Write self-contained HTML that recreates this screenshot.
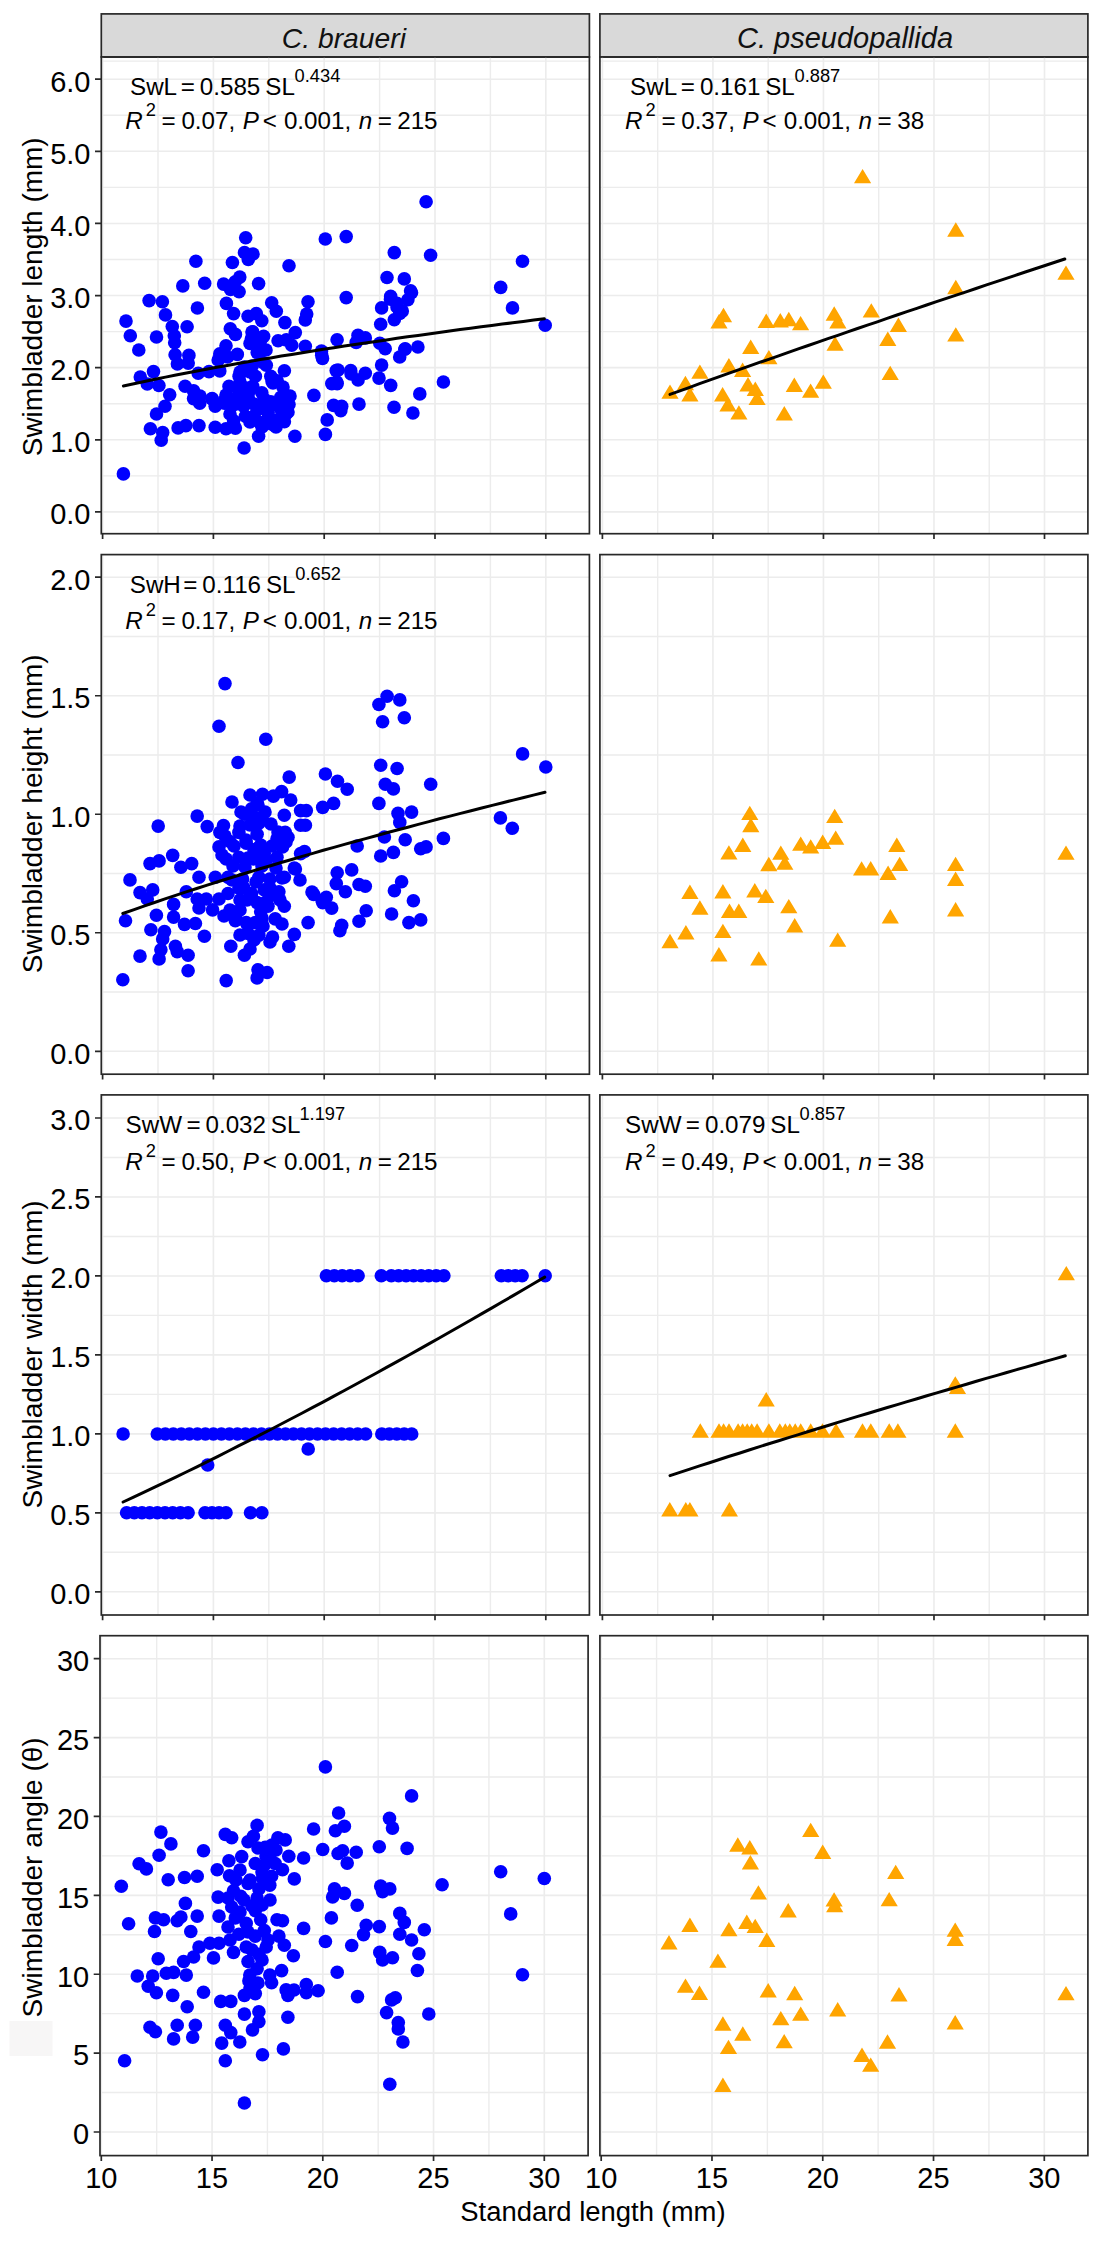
<!DOCTYPE html><html><head><meta charset="utf-8"><style>html,body{margin:0;padding:0;background:#fff;}svg{display:block;}text{font-family:"Liberation Sans",sans-serif;}</style></head><body>
<svg width="1102" height="2244" viewBox="0 0 1102 2244">
<rect x="0" y="0" width="1102" height="2244" fill="#fff"/>
<rect x="101.30" y="13.9" width="488.10" height="43.1" fill="#D9D9D9" stroke="#282828" stroke-width="1.7"/>
<rect x="599.90" y="13.9" width="488.00" height="43.1" fill="#D9D9D9" stroke="#282828" stroke-width="1.7"/>
<text x="343.9" y="47.6" font-size="28.3" font-style="italic" text-anchor="middle" fill="#111">C. braueri</text>
<text x="845.0" y="47.6" font-size="29" font-style="italic" text-anchor="middle" fill="#111">C. pseudopallida</text>
<path d="M101.30 475.84H589.40M101.30 403.72H589.40M101.30 331.61H589.40M101.30 259.49H589.40M101.30 187.38H589.40M101.30 115.26H589.40M101.30 61.17H589.40M158.00 57.00V533.70M268.80 57.00V533.70M379.60 57.00V533.70M490.40 57.00V533.70" stroke="#ECECEC" stroke-width="1.4" fill="none"/>
<path d="M101.30 511.90H589.40M101.30 439.78H589.40M101.30 367.67H589.40M101.30 295.55H589.40M101.30 223.43H589.40M101.30 151.32H589.40M101.30 79.20H589.40M102.60 57.00V533.70M213.40 57.00V533.70M324.20 57.00V533.70M435.00 57.00V533.70M545.80 57.00V533.70" stroke="#ECECEC" stroke-width="1.6" fill="none"/>
<text x="130.00" y="94.70" font-size="24.2" fill="#000">SwL</text><text x="180.70" y="94.70" font-size="24.2" fill="#000">=</text><text x="199.80" y="94.70" font-size="24.2" fill="#000">0.585</text><text x="265.30" y="94.70" font-size="24.2" fill="#000">SL</text><text x="294.60" y="81.60" font-size="18.3" fill="#000">0.434</text>
<text x="125.30" y="129.20" font-size="24.2" font-style="italic" fill="#000">R</text><text x="145.70" y="115.90" font-size="18.3" fill="#000">2</text><text x="161.60" y="129.20" font-size="24.2" fill="#000">=</text><text x="181.40" y="129.20" font-size="24.2" fill="#000">0.07,</text><text x="242.80" y="129.20" font-size="24.2" font-style="italic" fill="#000">P</text><text x="262.80" y="129.20" font-size="24.2" fill="#000"><</text><text x="283.90" y="129.20" font-size="24.2" fill="#000">0.001,</text><text x="358.70" y="129.20" font-size="24.2" font-style="italic" fill="#000">n</text><text x="377.70" y="129.20" font-size="24.2" fill="#000">=</text><text x="397.20" y="129.20" font-size="24.2" fill="#000">215</text>
<g fill="#0000FF"><circle cx="245.7" cy="237.8" r="6.8"/><circle cx="244.5" cy="252.5" r="6.8"/><circle cx="253.0" cy="254.0" r="6.8"/><circle cx="248.3" cy="259.4" r="6.8"/><circle cx="195.9" cy="261.2" r="6.8"/><circle cx="232.4" cy="262.5" r="6.8"/><circle cx="239.8" cy="277.1" r="6.8"/><circle cx="182.8" cy="285.9" r="6.8"/><circle cx="204.7" cy="283.3" r="6.8"/><circle cx="223.6" cy="284.1" r="6.8"/><circle cx="230.6" cy="289.5" r="6.8"/><circle cx="235.2" cy="281.8" r="6.8"/><circle cx="149.1" cy="300.6" r="6.8"/><circle cx="162.4" cy="301.8" r="6.8"/><circle cx="197.4" cy="308.0" r="6.8"/><circle cx="226.4" cy="303.4" r="6.8"/><circle cx="165.5" cy="314.9" r="6.8"/><circle cx="126.0" cy="321.1" r="6.8"/><circle cx="172.3" cy="326.5" r="6.8"/><circle cx="187.1" cy="326.8" r="6.8"/><circle cx="130.3" cy="335.8" r="6.8"/><circle cx="156.5" cy="337.0" r="6.8"/><circle cx="174.3" cy="335.8" r="6.8"/><circle cx="174.7" cy="342.7" r="6.8"/><circle cx="230.3" cy="328.8" r="6.8"/><circle cx="251.4" cy="338.8" r="6.8"/><circle cx="138.8" cy="350.0" r="6.8"/><circle cx="226.0" cy="345.8" r="6.8"/><circle cx="175.1" cy="354.7" r="6.8"/><circle cx="188.9" cy="355.4" r="6.8"/><circle cx="177.4" cy="363.9" r="6.8"/><circle cx="188.2" cy="363.1" r="6.8"/><circle cx="219.8" cy="353.9" r="6.8"/><circle cx="153.5" cy="371.6" r="6.8"/><circle cx="140.3" cy="377.0" r="6.8"/><circle cx="147.3" cy="384.0" r="6.8"/><circle cx="158.9" cy="385.5" r="6.8"/><circle cx="169.7" cy="394.8" r="6.8"/><circle cx="165.0" cy="406.3" r="6.8"/><circle cx="156.5" cy="414.0" r="6.8"/><circle cx="185.1" cy="386.3" r="6.8"/><circle cx="193.6" cy="390.9" r="6.8"/><circle cx="198.2" cy="373.2" r="6.8"/><circle cx="209.0" cy="371.6" r="6.8"/><circle cx="219.8" cy="370.9" r="6.8"/><circle cx="193.6" cy="398.6" r="6.8"/><circle cx="199.7" cy="403.3" r="6.8"/><circle cx="212.1" cy="398.6" r="6.8"/><circle cx="215.2" cy="406.3" r="6.8"/><circle cx="224.4" cy="403.3" r="6.8"/><circle cx="229.0" cy="386.3" r="6.8"/><circle cx="218.2" cy="360.0" r="6.8"/><circle cx="227.5" cy="357.0" r="6.8"/><circle cx="150.4" cy="428.7" r="6.8"/><circle cx="162.7" cy="432.6" r="6.8"/><circle cx="161.2" cy="440.3" r="6.8"/><circle cx="178.1" cy="427.9" r="6.8"/><circle cx="185.9" cy="425.6" r="6.8"/><circle cx="199.0" cy="425.6" r="6.8"/><circle cx="215.2" cy="427.2" r="6.8"/><circle cx="226.0" cy="428.7" r="6.8"/><circle cx="123.4" cy="473.9" r="6.8"/><circle cx="258.6" cy="283.6" r="6.8"/><circle cx="239.1" cy="291.8" r="6.8"/><circle cx="271.7" cy="302.7" r="6.8"/><circle cx="276.3" cy="311.3" r="6.8"/><circle cx="308.0" cy="301.8" r="6.8"/><circle cx="306.7" cy="314.0" r="6.8"/><circle cx="305.3" cy="319.9" r="6.8"/><circle cx="284.9" cy="322.6" r="6.8"/><circle cx="295.3" cy="332.6" r="6.8"/><circle cx="278.1" cy="340.8" r="6.8"/><circle cx="286.3" cy="339.9" r="6.8"/><circle cx="291.7" cy="345.3" r="6.8"/><circle cx="305.3" cy="346.2" r="6.8"/><circle cx="321.7" cy="355.3" r="6.8"/><circle cx="248.1" cy="316.3" r="6.8"/><circle cx="256.3" cy="313.6" r="6.8"/><circle cx="261.8" cy="320.8" r="6.8"/><circle cx="233.6" cy="313.6" r="6.8"/><circle cx="235.4" cy="334.4" r="6.8"/><circle cx="252.7" cy="331.7" r="6.8"/><circle cx="263.6" cy="336.3" r="6.8"/><circle cx="250.0" cy="343.5" r="6.8"/><circle cx="260.0" cy="345.3" r="6.8"/><circle cx="237.3" cy="354.4" r="6.8"/><circle cx="257.2" cy="352.6" r="6.8"/><circle cx="244.5" cy="367.1" r="6.8"/><circle cx="266.3" cy="365.3" r="6.8"/><circle cx="284.4" cy="370.7" r="6.8"/><circle cx="239.1" cy="376.2" r="6.8"/><circle cx="255.4" cy="376.2" r="6.8"/><circle cx="270.8" cy="376.2" r="6.8"/><circle cx="313.9" cy="395.4" r="6.8"/><circle cx="294.9" cy="436.2" r="6.8"/><circle cx="258.6" cy="436.2" r="6.8"/><circle cx="244.1" cy="448.0" r="6.8"/><circle cx="245.4" cy="416.3" r="6.8"/><circle cx="233.6" cy="420.8" r="6.8"/><circle cx="235.4" cy="428.1" r="6.8"/><circle cx="260.0" cy="422.6" r="6.8"/><circle cx="272.6" cy="424.4" r="6.8"/><circle cx="284.4" cy="421.7" r="6.8"/><circle cx="289.0" cy="404.5" r="6.8"/><circle cx="280.8" cy="397.2" r="6.8"/><circle cx="280.8" cy="409.0" r="6.8"/><circle cx="268.1" cy="412.6" r="6.8"/><circle cx="257.2" cy="409.9" r="6.8"/><circle cx="243.6" cy="406.3" r="6.8"/><circle cx="234.5" cy="404.5" r="6.8"/><circle cx="237.3" cy="388.1" r="6.8"/><circle cx="252.7" cy="386.3" r="6.8"/><circle cx="261.8" cy="392.7" r="6.8"/><circle cx="277.2" cy="380.9" r="6.8"/><circle cx="248.1" cy="397.2" r="6.8"/><circle cx="270.8" cy="401.8" r="6.8"/><circle cx="426.1" cy="201.8" r="6.8"/><circle cx="325.3" cy="239.0" r="6.8"/><circle cx="346.2" cy="236.6" r="6.8"/><circle cx="394.3" cy="252.6" r="6.8"/><circle cx="430.6" cy="255.3" r="6.8"/><circle cx="289.0" cy="265.7" r="6.8"/><circle cx="387.0" cy="277.5" r="6.8"/><circle cx="404.3" cy="278.9" r="6.8"/><circle cx="346.2" cy="297.6" r="6.8"/><circle cx="410.6" cy="290.7" r="6.8"/><circle cx="407.9" cy="299.8" r="6.8"/><circle cx="390.7" cy="296.2" r="6.8"/><circle cx="381.6" cy="307.9" r="6.8"/><circle cx="397.0" cy="307.0" r="6.8"/><circle cx="399.7" cy="313.4" r="6.8"/><circle cx="394.3" cy="319.7" r="6.8"/><circle cx="380.7" cy="324.3" r="6.8"/><circle cx="337.1" cy="339.7" r="6.8"/><circle cx="358.0" cy="335.2" r="6.8"/><circle cx="365.3" cy="337.9" r="6.8"/><circle cx="356.2" cy="342.4" r="6.8"/><circle cx="379.8" cy="343.3" r="6.8"/><circle cx="385.2" cy="348.8" r="6.8"/><circle cx="405.2" cy="348.8" r="6.8"/><circle cx="399.7" cy="357.0" r="6.8"/><circle cx="417.9" cy="347.0" r="6.8"/><circle cx="381.6" cy="365.1" r="6.8"/><circle cx="336.2" cy="370.6" r="6.8"/><circle cx="350.7" cy="370.6" r="6.8"/><circle cx="365.3" cy="373.3" r="6.8"/><circle cx="443.4" cy="382.0" r="6.8"/><circle cx="379.0" cy="378.1" r="6.8"/><circle cx="390.7" cy="385.4" r="6.8"/><circle cx="419.8" cy="393.9" r="6.8"/><circle cx="331.8" cy="383.6" r="6.8"/><circle cx="337.2" cy="383.6" r="6.8"/><circle cx="358.1" cy="380.0" r="6.8"/><circle cx="333.6" cy="405.4" r="6.8"/><circle cx="340.8" cy="410.8" r="6.8"/><circle cx="341.7" cy="406.3" r="6.8"/><circle cx="359.0" cy="404.1" r="6.8"/><circle cx="394.0" cy="407.2" r="6.8"/><circle cx="412.9" cy="413.0" r="6.8"/><circle cx="327.2" cy="419.9" r="6.8"/><circle cx="325.4" cy="434.4" r="6.8"/><circle cx="522.5" cy="261.3" r="6.8"/><circle cx="500.7" cy="287.4" r="6.8"/><circle cx="512.5" cy="307.9" r="6.8"/><circle cx="545.2" cy="325.2" r="6.8"/><circle cx="262.0" cy="362.0" r="6.8"/><circle cx="250.0" cy="372.0" r="6.8"/><circle cx="240.0" cy="382.0" r="6.8"/><circle cx="273.0" cy="383.0" r="6.8"/><circle cx="283.0" cy="387.0" r="6.8"/><circle cx="290.0" cy="396.0" r="6.8"/><circle cx="264.0" cy="399.0" r="6.8"/><circle cx="254.0" cy="404.0" r="6.8"/><circle cx="277.0" cy="405.0" r="6.8"/><circle cx="286.0" cy="414.0" r="6.8"/><circle cx="268.0" cy="418.0" r="6.8"/><circle cx="250.0" cy="422.0" r="6.8"/><circle cx="276.0" cy="427.0" r="6.8"/><circle cx="262.0" cy="427.0" r="6.8"/><circle cx="240.0" cy="396.0" r="6.8"/><circle cx="230.0" cy="414.0" r="6.8"/><circle cx="246.0" cy="388.0" r="6.8"/><circle cx="226.0" cy="395.0" r="6.8"/><circle cx="321.5" cy="351.0" r="6.8"/><circle cx="322.5" cy="358.5" r="6.8"/><circle cx="390.5" cy="299.3" r="6.8"/><circle cx="397.0" cy="303.3" r="6.8"/><circle cx="402.3" cy="311.1" r="6.8"/><circle cx="411.5" cy="292.8" r="6.8"/><circle cx="338.0" cy="370.1" r="6.8"/><circle cx="336.7" cy="382.0" r="6.8"/><circle cx="351.1" cy="374.0" r="6.8"/><circle cx="404.9" cy="349.2" r="6.8"/><circle cx="200.0" cy="396.0" r="6.8"/><circle cx="212.0" cy="399.0" r="6.8"/><circle cx="224.0" cy="401.0" r="6.8"/><circle cx="236.0" cy="398.0" r="6.8"/><circle cx="250.0" cy="390.0" r="6.8"/><circle cx="272.0" cy="381.0" r="6.8"/><circle cx="240.0" cy="372.0" r="6.8"/><circle cx="252.0" cy="366.0" r="6.8"/><circle cx="266.0" cy="350.0" r="6.8"/><circle cx="284.0" cy="402.0" r="6.8"/><circle cx="288.0" cy="412.0" r="6.8"/><circle cx="266.0" cy="408.0" r="6.8"/><circle cx="254.0" cy="416.0" r="6.8"/><circle cx="276.0" cy="420.0" r="6.8"/><circle cx="262.0" cy="338.0" r="6.8"/><circle cx="252.0" cy="332.0" r="6.8"/></g>
<path d="M123.4 386.0L133.9 383.7L144.4 381.5L155.0 379.3L165.5 377.1L176.0 375.0L186.5 373.0L197.1 371.0L207.6 369.0L218.1 367.1L228.6 365.2L239.1 363.3L249.7 361.4L260.2 359.6L270.7 357.9L281.2 356.1L291.8 354.4L302.3 352.7L312.8 351.0L323.3 349.3L333.8 347.7L344.4 346.1L354.9 344.5L365.4 342.9L375.9 341.4L386.5 339.9L397.0 338.3L407.5 336.8L418.0 335.4L428.6 333.9L439.1 332.5L449.6 331.0L460.1 329.6L470.6 328.2L481.2 326.8L491.7 325.5L502.2 324.1L512.7 322.8L523.3 321.4L533.8 320.1L544.3 318.8" stroke="#000" stroke-width="3.0" fill="none" stroke-linejoin="round" stroke-linecap="round"/>
<rect x="101.30" y="57.00" width="488.10" height="476.70" fill="none" stroke="#282828" stroke-width="1.7"/>
<path d="M102.60 533.70V539.00M213.40 533.70V539.00M324.20 533.70V539.00M435.00 533.70V539.00M545.80 533.70V539.00" stroke="#282828" stroke-width="1.7" fill="none"/>
<path d="M599.90 475.84H1087.90M599.90 403.72H1087.90M599.90 331.61H1087.90M599.90 259.49H1087.90M599.90 187.38H1087.90M599.90 115.26H1087.90M599.90 61.17H1087.90M657.66 57.00V533.70M768.19 57.00V533.70M878.71 57.00V533.70M989.24 57.00V533.70" stroke="#ECECEC" stroke-width="1.4" fill="none"/>
<path d="M599.90 511.90H1087.90M599.90 439.78H1087.90M599.90 367.67H1087.90M599.90 295.55H1087.90M599.90 223.43H1087.90M599.90 151.32H1087.90M599.90 79.20H1087.90M602.40 57.00V533.70M712.92 57.00V533.70M823.45 57.00V533.70M933.98 57.00V533.70M1044.50 57.00V533.70" stroke="#ECECEC" stroke-width="1.6" fill="none"/>
<text x="630.10" y="94.70" font-size="24.2" fill="#000">SwL</text><text x="680.80" y="94.70" font-size="24.2" fill="#000">=</text><text x="699.90" y="94.70" font-size="24.2" fill="#000">0.161</text><text x="765.20" y="94.70" font-size="24.2" fill="#000">SL</text><text x="794.50" y="81.60" font-size="18.3" fill="#000">0.887</text>
<text x="625.10" y="129.20" font-size="24.2" font-style="italic" fill="#000">R</text><text x="645.50" y="115.90" font-size="18.3" fill="#000">2</text><text x="661.40" y="129.20" font-size="24.2" fill="#000">=</text><text x="681.20" y="129.20" font-size="24.2" fill="#000">0.37,</text><text x="742.60" y="129.20" font-size="24.2" font-style="italic" fill="#000">P</text><text x="762.60" y="129.20" font-size="24.2" fill="#000"><</text><text x="783.70" y="129.20" font-size="24.2" fill="#000">0.001,</text><text x="858.50" y="129.20" font-size="24.2" font-style="italic" fill="#000">n</text><text x="877.50" y="129.20" font-size="24.2" fill="#000">=</text><text x="897.30" y="129.20" font-size="24.2" fill="#000">38</text>
<path d="M723.5 307.8L732.1 322.2L714.9 322.2ZM719.0 314.1L727.6 328.5L710.4 328.5ZM766.2 313.6L774.8 328.0L757.6 328.0ZM780.3 313.0L788.9 327.4L771.7 327.4ZM788.8 311.8L797.4 326.2L780.2 326.2ZM800.6 315.9L809.2 330.3L792.0 330.3ZM834.2 306.3L842.8 320.7L825.6 320.7ZM837.9 314.1L846.5 328.5L829.3 328.5ZM835.1 336.3L843.7 350.7L826.5 350.7ZM750.7 339.5L759.3 353.9L742.1 353.9ZM768.9 349.9L777.5 364.3L760.3 364.3ZM728.9 358.0L737.5 372.4L720.3 372.4ZM742.6 362.6L751.2 377.0L734.0 377.0ZM699.9 364.4L708.5 378.8L691.3 378.8ZM685.4 375.8L694.0 390.2L676.8 390.2ZM670.0 384.4L678.6 398.8L661.4 398.8ZM689.9 387.1L698.5 401.5L681.3 401.5ZM748.0 377.1L756.6 391.5L739.4 391.5ZM755.3 381.6L763.9 396.0L746.7 396.0ZM757.1 390.7L765.7 405.1L748.5 405.1ZM722.6 387.1L731.2 401.5L714.0 401.5ZM728.0 397.1L736.6 411.5L719.4 411.5ZM738.9 405.2L747.5 419.6L730.3 419.6ZM794.3 377.6L802.9 392.0L785.7 392.0ZM810.6 383.4L819.2 397.8L802.0 397.8ZM823.3 374.4L831.9 388.8L814.7 388.8ZM784.3 406.1L792.9 420.5L775.7 420.5ZM862.6 168.9L871.2 183.3L854.0 183.3ZM955.8 222.3L964.4 236.7L947.2 236.7ZM955.8 279.8L964.4 294.2L947.2 294.2ZM1066.0 265.4L1074.6 279.8L1057.4 279.8ZM871.3 303.2L879.9 317.6L862.7 317.6ZM898.4 317.5L907.0 331.9L889.8 331.9ZM887.8 331.5L896.4 345.9L879.2 345.9ZM955.8 327.2L964.4 341.6L947.2 341.6ZM890.2 365.7L898.8 380.1L881.6 380.1Z" fill="#FFA500"/>
<path d="M670.0 394.4L679.9 390.8L689.7 387.3L699.6 383.7L709.5 380.2L719.4 376.7L729.2 373.2L739.1 369.7L749.0 366.2L758.8 362.7L768.7 359.3L778.6 355.8L788.4 352.4L798.3 348.9L808.2 345.5L818.0 342.1L827.9 338.7L837.8 335.3L847.7 331.9L857.5 328.5L867.4 325.1L877.3 321.8L887.1 318.4L897.0 315.0L906.9 311.7L916.8 308.4L926.6 305.0L936.5 301.7L946.4 298.4L956.2 295.1L966.1 291.8L976.0 288.5L985.8 285.2L995.7 281.9L1005.6 278.6L1015.4 275.3L1025.3 272.0L1035.2 268.8L1045.1 265.5L1054.9 262.3L1064.8 259.0" stroke="#000" stroke-width="3.0" fill="none" stroke-linejoin="round" stroke-linecap="round"/>
<rect x="599.90" y="57.00" width="488.00" height="476.70" fill="none" stroke="#282828" stroke-width="1.7"/>
<path d="M602.40 533.70V539.00M712.92 533.70V539.00M823.45 533.70V539.00M933.98 533.70V539.00M1044.50 533.70V539.00" stroke="#282828" stroke-width="1.7" fill="none"/>
<path d="M95.00 511.90H101.30M95.00 439.78H101.30M95.00 367.67H101.30M95.00 295.55H101.30M95.00 223.43H101.30M95.00 151.32H101.30M95.00 79.20H101.30" stroke="#282828" stroke-width="1.7" fill="none"/>
<text x="90.5" y="524.2" font-size="29" text-anchor="end" fill="#000">0.0</text>
<text x="90.5" y="452.1" font-size="29" text-anchor="end" fill="#000">1.0</text>
<text x="90.5" y="380.0" font-size="29" text-anchor="end" fill="#000">2.0</text>
<text x="90.5" y="307.8" font-size="29" text-anchor="end" fill="#000">3.0</text>
<text x="90.5" y="235.7" font-size="29" text-anchor="end" fill="#000">4.0</text>
<text x="90.5" y="163.6" font-size="29" text-anchor="end" fill="#000">5.0</text>
<text x="90.5" y="91.5" font-size="29" text-anchor="end" fill="#000">6.0</text>
<text transform="translate(42.4 296.8) rotate(-90)" font-size="28" text-anchor="middle" fill="#000">Swimbladder length (mm)</text>
<path d="M101.30 992.04H589.40M101.30 873.51H589.40M101.30 754.99H589.40M101.30 636.46H589.40M158.00 554.60V1074.20M268.80 554.60V1074.20M379.60 554.60V1074.20M490.40 554.60V1074.20" stroke="#ECECEC" stroke-width="1.4" fill="none"/>
<path d="M101.30 1051.30H589.40M101.30 932.77H589.40M101.30 814.25H589.40M101.30 695.73H589.40M101.30 577.20H589.40M102.60 554.60V1074.20M213.40 554.60V1074.20M324.20 554.60V1074.20M435.00 554.60V1074.20M545.80 554.60V1074.20" stroke="#ECECEC" stroke-width="1.6" fill="none"/>
<text x="129.75" y="593.00" font-size="24.2" fill="#000">SwH</text><text x="183.25" y="593.00" font-size="24.2" fill="#000">=</text><text x="202.35" y="593.00" font-size="24.2" fill="#000">0.116</text><text x="265.95" y="593.00" font-size="24.2" fill="#000">SL</text><text x="295.25" y="579.90" font-size="18.3" fill="#000">0.652</text>
<text x="125.30" y="629.30" font-size="24.2" font-style="italic" fill="#000">R</text><text x="145.70" y="616.00" font-size="18.3" fill="#000">2</text><text x="161.60" y="629.30" font-size="24.2" fill="#000">=</text><text x="181.40" y="629.30" font-size="24.2" fill="#000">0.17,</text><text x="242.80" y="629.30" font-size="24.2" font-style="italic" fill="#000">P</text><text x="262.80" y="629.30" font-size="24.2" fill="#000"><</text><text x="283.90" y="629.30" font-size="24.2" fill="#000">0.001,</text><text x="358.70" y="629.30" font-size="24.2" font-style="italic" fill="#000">n</text><text x="377.70" y="629.30" font-size="24.2" fill="#000">=</text><text x="397.20" y="629.30" font-size="24.2" fill="#000">215</text>
<g fill="#0000FF"><circle cx="225.0" cy="683.6" r="6.8"/><circle cx="219.0" cy="726.2" r="6.8"/><circle cx="265.8" cy="739.3" r="6.8"/><circle cx="238.0" cy="762.5" r="6.8"/><circle cx="289.2" cy="777.1" r="6.8"/><circle cx="158.2" cy="826.1" r="6.8"/><circle cx="197.2" cy="816.1" r="6.8"/><circle cx="207.2" cy="826.6" r="6.8"/><circle cx="223.5" cy="825.5" r="6.8"/><circle cx="219.9" cy="832.4" r="6.8"/><circle cx="262.5" cy="794.3" r="6.8"/><circle cx="273.4" cy="796.1" r="6.8"/><circle cx="281.6" cy="791.6" r="6.8"/><circle cx="290.7" cy="800.1" r="6.8"/><circle cx="257.1" cy="803.4" r="6.8"/><circle cx="251.6" cy="808.8" r="6.8"/><circle cx="244.4" cy="814.3" r="6.8"/><circle cx="255.3" cy="817.9" r="6.8"/><circle cx="284.3" cy="815.2" r="6.8"/><circle cx="258.9" cy="823.3" r="6.8"/><circle cx="238.9" cy="832.4" r="6.8"/><circle cx="257.1" cy="834.2" r="6.8"/><circle cx="285.2" cy="832.4" r="6.8"/><circle cx="277.0" cy="838.8" r="6.8"/><circle cx="300.6" cy="825.2" r="6.8"/><circle cx="300.6" cy="810.6" r="6.8"/><circle cx="229.9" cy="841.5" r="6.8"/><circle cx="219.0" cy="846.9" r="6.8"/><circle cx="246.2" cy="843.3" r="6.8"/><circle cx="260.7" cy="845.1" r="6.8"/><circle cx="282.5" cy="846.9" r="6.8"/><circle cx="150.0" cy="863.6" r="6.8"/><circle cx="159.1" cy="860.9" r="6.8"/><circle cx="172.7" cy="855.4" r="6.8"/><circle cx="180.9" cy="867.2" r="6.8"/><circle cx="191.7" cy="863.6" r="6.8"/><circle cx="130.0" cy="879.9" r="6.8"/><circle cx="140.0" cy="892.6" r="6.8"/><circle cx="152.7" cy="889.9" r="6.8"/><circle cx="147.3" cy="899.0" r="6.8"/><circle cx="125.5" cy="920.7" r="6.8"/><circle cx="156.4" cy="915.3" r="6.8"/><circle cx="173.6" cy="904.4" r="6.8"/><circle cx="173.6" cy="917.1" r="6.8"/><circle cx="186.3" cy="891.7" r="6.8"/><circle cx="199.0" cy="877.2" r="6.8"/><circle cx="197.2" cy="899.0" r="6.8"/><circle cx="199.0" cy="908.0" r="6.8"/><circle cx="206.3" cy="899.0" r="6.8"/><circle cx="212.6" cy="909.9" r="6.8"/><circle cx="215.3" cy="877.2" r="6.8"/><circle cx="184.5" cy="924.4" r="6.8"/><circle cx="195.4" cy="923.5" r="6.8"/><circle cx="150.9" cy="929.8" r="6.8"/><circle cx="164.5" cy="931.6" r="6.8"/><circle cx="162.7" cy="938.9" r="6.8"/><circle cx="204.4" cy="936.2" r="6.8"/><circle cx="175.4" cy="946.2" r="6.8"/><circle cx="177.2" cy="951.6" r="6.8"/><circle cx="160.9" cy="949.8" r="6.8"/><circle cx="159.1" cy="958.9" r="6.8"/><circle cx="188.1" cy="955.2" r="6.8"/><circle cx="140.0" cy="956.1" r="6.8"/><circle cx="188.1" cy="970.7" r="6.8"/><circle cx="122.8" cy="979.7" r="6.8"/><circle cx="226.2" cy="980.6" r="6.8"/><circle cx="258.0" cy="969.7" r="6.8"/><circle cx="267.1" cy="972.5" r="6.8"/><circle cx="257.1" cy="977.9" r="6.8"/><circle cx="230.8" cy="946.2" r="6.8"/><circle cx="244.4" cy="955.2" r="6.8"/><circle cx="235.3" cy="920.7" r="6.8"/><circle cx="246.2" cy="922.6" r="6.8"/><circle cx="248.0" cy="933.4" r="6.8"/><circle cx="258.9" cy="935.3" r="6.8"/><circle cx="255.3" cy="922.6" r="6.8"/><circle cx="260.7" cy="911.7" r="6.8"/><circle cx="275.2" cy="918.9" r="6.8"/><circle cx="272.5" cy="937.1" r="6.8"/><circle cx="288.8" cy="946.2" r="6.8"/><circle cx="294.3" cy="934.4" r="6.8"/><circle cx="284.3" cy="906.2" r="6.8"/><circle cx="268.0" cy="906.2" r="6.8"/><circle cx="257.1" cy="902.6" r="6.8"/><circle cx="219.0" cy="899.0" r="6.8"/><circle cx="228.0" cy="893.5" r="6.8"/><circle cx="238.9" cy="888.1" r="6.8"/><circle cx="251.6" cy="893.5" r="6.8"/><circle cx="264.3" cy="889.9" r="6.8"/><circle cx="278.9" cy="891.7" r="6.8"/><circle cx="284.3" cy="877.2" r="6.8"/><circle cx="269.8" cy="879.0" r="6.8"/><circle cx="258.9" cy="877.2" r="6.8"/><circle cx="242.6" cy="879.0" r="6.8"/><circle cx="228.0" cy="877.2" r="6.8"/><circle cx="294.3" cy="868.1" r="6.8"/><circle cx="226.2" cy="859.0" r="6.8"/><circle cx="238.9" cy="857.2" r="6.8"/><circle cx="253.4" cy="859.0" r="6.8"/><circle cx="264.3" cy="853.6" r="6.8"/><circle cx="277.0" cy="857.2" r="6.8"/><circle cx="288.0" cy="837.3" r="6.8"/><circle cx="300.6" cy="853.6" r="6.8"/><circle cx="387.1" cy="696.3" r="6.8"/><circle cx="378.9" cy="704.5" r="6.8"/><circle cx="399.8" cy="699.9" r="6.8"/><circle cx="382.6" cy="721.7" r="6.8"/><circle cx="404.3" cy="717.7" r="6.8"/><circle cx="380.7" cy="765.3" r="6.8"/><circle cx="397.1" cy="768.5" r="6.8"/><circle cx="385.3" cy="784.3" r="6.8"/><circle cx="393.4" cy="788.9" r="6.8"/><circle cx="430.7" cy="784.3" r="6.8"/><circle cx="325.4" cy="774.0" r="6.8"/><circle cx="337.5" cy="781.2" r="6.8"/><circle cx="347.2" cy="789.2" r="6.8"/><circle cx="306.3" cy="810.6" r="6.8"/><circle cx="322.7" cy="807.4" r="6.8"/><circle cx="333.6" cy="803.4" r="6.8"/><circle cx="305.4" cy="825.2" r="6.8"/><circle cx="378.9" cy="803.4" r="6.8"/><circle cx="398.0" cy="813.4" r="6.8"/><circle cx="411.6" cy="812.1" r="6.8"/><circle cx="399.8" cy="822.4" r="6.8"/><circle cx="384.4" cy="837.0" r="6.8"/><circle cx="405.2" cy="839.7" r="6.8"/><circle cx="443.4" cy="838.4" r="6.8"/><circle cx="357.2" cy="846.0" r="6.8"/><circle cx="420.7" cy="848.7" r="6.8"/><circle cx="426.1" cy="846.9" r="6.8"/><circle cx="304.5" cy="851.5" r="6.8"/><circle cx="380.7" cy="856.0" r="6.8"/><circle cx="393.4" cy="852.4" r="6.8"/><circle cx="295.4" cy="869.0" r="6.8"/><circle cx="337.2" cy="872.7" r="6.8"/><circle cx="351.7" cy="869.9" r="6.8"/><circle cx="336.3" cy="883.6" r="6.8"/><circle cx="345.4" cy="891.7" r="6.8"/><circle cx="359.0" cy="884.5" r="6.8"/><circle cx="365.3" cy="886.3" r="6.8"/><circle cx="313.6" cy="894.4" r="6.8"/><circle cx="326.3" cy="897.2" r="6.8"/><circle cx="322.7" cy="902.6" r="6.8"/><circle cx="331.7" cy="908.1" r="6.8"/><circle cx="401.6" cy="881.7" r="6.8"/><circle cx="394.4" cy="890.8" r="6.8"/><circle cx="413.4" cy="900.8" r="6.8"/><circle cx="366.2" cy="910.8" r="6.8"/><circle cx="359.0" cy="921.3" r="6.8"/><circle cx="341.7" cy="925.3" r="6.8"/><circle cx="339.9" cy="930.7" r="6.8"/><circle cx="308.1" cy="922.6" r="6.8"/><circle cx="391.6" cy="914.0" r="6.8"/><circle cx="408.9" cy="922.6" r="6.8"/><circle cx="420.7" cy="919.9" r="6.8"/><circle cx="522.6" cy="753.9" r="6.8"/><circle cx="545.8" cy="767.0" r="6.8"/><circle cx="500.4" cy="817.9" r="6.8"/><circle cx="512.3" cy="828.2" r="6.8"/><circle cx="232.0" cy="802.0" r="6.8"/><circle cx="241.0" cy="812.0" r="6.8"/><circle cx="250.0" cy="825.0" r="6.8"/><circle cx="265.0" cy="812.0" r="6.8"/><circle cx="271.0" cy="824.0" r="6.8"/><circle cx="272.0" cy="846.0" r="6.8"/><circle cx="266.0" cy="860.0" r="6.8"/><circle cx="245.0" cy="867.0" r="6.8"/><circle cx="276.0" cy="868.0" r="6.8"/><circle cx="233.0" cy="866.0" r="6.8"/><circle cx="254.0" cy="850.0" r="6.8"/><circle cx="247.0" cy="900.0" r="6.8"/><circle cx="270.0" cy="896.0" r="6.8"/><circle cx="240.0" cy="910.0" r="6.8"/><circle cx="263.0" cy="926.0" r="6.8"/><circle cx="270.0" cy="942.0" r="6.8"/><circle cx="250.0" cy="949.0" r="6.8"/><circle cx="230.0" cy="910.0" r="6.8"/><circle cx="282.0" cy="924.0" r="6.8"/><circle cx="224.0" cy="916.0" r="6.8"/><circle cx="250.0" cy="795.0" r="6.8"/><circle cx="258.0" cy="805.0" r="6.8"/><circle cx="262.0" cy="818.0" r="6.8"/><circle cx="240.0" cy="826.0" r="6.8"/><circle cx="225.0" cy="836.0" r="6.8"/><circle cx="234.0" cy="846.0" r="6.8"/><circle cx="246.0" cy="840.0" r="6.8"/><circle cx="258.0" cy="848.0" r="6.8"/><circle cx="222.0" cy="855.0" r="6.8"/><circle cx="248.0" cy="858.0" r="6.8"/><circle cx="262.0" cy="866.0" r="6.8"/><circle cx="232.0" cy="880.0" r="6.8"/><circle cx="244.0" cy="888.0" r="6.8"/><circle cx="256.0" cy="882.0" r="6.8"/><circle cx="270.0" cy="888.0" r="6.8"/><circle cx="282.0" cy="878.0" r="6.8"/><circle cx="240.0" cy="900.0" r="6.8"/><circle cx="266.0" cy="902.0" r="6.8"/><circle cx="280.0" cy="900.0" r="6.8"/><circle cx="236.0" cy="918.0" r="6.8"/><circle cx="248.0" cy="925.0" r="6.8"/><circle cx="262.0" cy="918.0" r="6.8"/><circle cx="240.0" cy="935.0" r="6.8"/><circle cx="254.0" cy="940.0" r="6.8"/><circle cx="278.0" cy="832.0" r="6.8"/><circle cx="286.0" cy="842.0" r="6.8"/><circle cx="312.0" cy="892.0" r="6.8"/><circle cx="322.0" cy="900.0" r="6.8"/><circle cx="300.0" cy="880.0" r="6.8"/></g>
<path d="M122.8 913.5L133.4 909.8L143.9 906.1L154.5 902.5L165.0 898.9L175.6 895.4L186.1 891.9L196.7 888.5L207.2 885.1L217.8 881.8L228.3 878.5L238.9 875.2L249.5 872.0L260.0 868.8L270.6 865.7L281.1 862.5L291.7 859.5L302.2 856.4L312.8 853.4L323.3 850.3L333.9 847.4L344.5 844.4L355.0 841.5L365.6 838.6L376.1 835.7L386.7 832.8L397.2 830.0L407.8 827.2L418.3 824.4L428.9 821.6L439.4 818.8L450.0 816.1L460.6 813.4L471.1 810.7L481.7 808.0L492.2 805.4L502.8 802.7L513.3 800.1L523.9 797.5L534.4 794.9L545.0 792.3" stroke="#000" stroke-width="3.0" fill="none" stroke-linejoin="round" stroke-linecap="round"/>
<rect x="101.30" y="554.60" width="488.10" height="519.60" fill="none" stroke="#282828" stroke-width="1.7"/>
<path d="M102.60 1074.20V1079.50M213.40 1074.20V1079.50M324.20 1074.20V1079.50M435.00 1074.20V1079.50M545.80 1074.20V1079.50" stroke="#282828" stroke-width="1.7" fill="none"/>
<path d="M599.90 992.04H1087.90M599.90 873.51H1087.90M599.90 754.99H1087.90M599.90 636.46H1087.90M657.66 554.60V1074.20M768.19 554.60V1074.20M878.71 554.60V1074.20M989.24 554.60V1074.20" stroke="#ECECEC" stroke-width="1.4" fill="none"/>
<path d="M599.90 1051.30H1087.90M599.90 932.77H1087.90M599.90 814.25H1087.90M599.90 695.73H1087.90M599.90 577.20H1087.90M602.40 554.60V1074.20M712.92 554.60V1074.20M823.45 554.60V1074.20M933.98 554.60V1074.20M1044.50 554.60V1074.20" stroke="#ECECEC" stroke-width="1.6" fill="none"/>
<path d="M749.8 805.7L758.4 820.1L741.2 820.1ZM750.8 817.8L759.4 832.2L742.2 832.2ZM742.8 837.6L751.4 852.0L734.2 852.0ZM728.9 845.2L737.5 859.6L720.3 859.6ZM834.7 808.7L843.3 823.1L826.1 823.1ZM800.7 836.4L809.3 850.8L792.1 850.8ZM810.7 839.2L819.3 853.6L802.1 853.6ZM822.7 834.6L831.3 849.0L814.1 849.0ZM835.7 830.4L844.3 844.8L827.1 844.8ZM780.8 845.4L789.4 859.8L772.2 859.8ZM784.8 855.4L793.4 869.8L776.2 869.8ZM768.8 856.8L777.4 871.2L760.2 871.2ZM861.6 861.2L870.2 875.6L853.0 875.6ZM689.9 884.5L698.5 898.9L681.3 898.9ZM722.9 884.1L731.5 898.5L714.3 898.5ZM754.8 883.1L763.4 897.5L746.2 897.5ZM765.8 888.7L774.4 903.1L757.2 903.1ZM699.9 900.3L708.5 914.7L691.3 914.7ZM729.5 903.5L738.1 917.9L720.9 917.9ZM738.8 903.5L747.4 917.9L730.2 917.9ZM788.8 898.9L797.4 913.3L780.2 913.3ZM794.7 918.1L803.3 932.5L786.1 932.5ZM685.9 925.0L694.5 939.4L677.3 939.4ZM722.9 923.7L731.5 938.1L714.3 938.1ZM670.0 933.8L678.6 948.2L661.4 948.2ZM837.7 932.4L846.3 946.8L829.1 946.8ZM718.9 947.0L727.5 961.4L710.3 961.4ZM758.8 951.2L767.4 965.6L750.2 965.6ZM896.8 837.6L905.4 852.0L888.2 852.0ZM899.7 856.7L908.3 871.1L891.1 871.1ZM870.7 861.1L879.3 875.5L862.1 875.5ZM888.1 865.5L896.7 879.9L879.5 879.9ZM955.6 856.7L964.2 871.1L947.0 871.1ZM955.6 871.5L964.2 885.9L947.0 885.9ZM955.6 902.0L964.2 916.4L947.0 916.4ZM890.3 909.0L898.9 923.4L881.7 923.4ZM1066.0 845.4L1074.6 859.8L1057.4 859.8Z" fill="#FFA500"/>
<rect x="599.90" y="554.60" width="488.00" height="519.60" fill="none" stroke="#282828" stroke-width="1.7"/>
<path d="M602.40 1074.20V1079.50M712.92 1074.20V1079.50M823.45 1074.20V1079.50M933.98 1074.20V1079.50M1044.50 1074.20V1079.50" stroke="#282828" stroke-width="1.7" fill="none"/>
<path d="M95.00 1051.30H101.30M95.00 932.77H101.30M95.00 814.25H101.30M95.00 695.73H101.30M95.00 577.20H101.30" stroke="#282828" stroke-width="1.7" fill="none"/>
<text x="90.5" y="1063.6" font-size="29" text-anchor="end" fill="#000">0.0</text>
<text x="90.5" y="945.1" font-size="29" text-anchor="end" fill="#000">0.5</text>
<text x="90.5" y="826.5" font-size="29" text-anchor="end" fill="#000">1.0</text>
<text x="90.5" y="708.0" font-size="29" text-anchor="end" fill="#000">1.5</text>
<text x="90.5" y="589.5" font-size="29" text-anchor="end" fill="#000">2.0</text>
<text transform="translate(42.4 813.8) rotate(-90)" font-size="28" text-anchor="middle" fill="#000">Swimbladder height (mm)</text>
<path d="M101.30 1552.32H589.40M101.30 1473.35H589.40M101.30 1394.38H589.40M101.30 1315.42H589.40M101.30 1236.45H589.40M101.30 1157.48H589.40M158.00 1094.90V1615.00M268.80 1094.90V1615.00M379.60 1094.90V1615.00M490.40 1094.90V1615.00" stroke="#ECECEC" stroke-width="1.4" fill="none"/>
<path d="M101.30 1591.80H589.40M101.30 1512.83H589.40M101.30 1433.87H589.40M101.30 1354.90H589.40M101.30 1275.93H589.40M101.30 1196.97H589.40M101.30 1118.00H589.40M102.60 1094.90V1615.00M213.40 1094.90V1615.00M324.20 1094.90V1615.00M435.00 1094.90V1615.00M545.80 1094.90V1615.00" stroke="#ECECEC" stroke-width="1.6" fill="none"/>
<text x="125.60" y="1133.40" font-size="24.2" fill="#000">SwW</text><text x="186.40" y="1133.40" font-size="24.2" fill="#000">=</text><text x="205.50" y="1133.40" font-size="24.2" fill="#000">0.032</text><text x="270.80" y="1133.40" font-size="24.2" fill="#000">SL</text><text x="299.40" y="1120.30" font-size="18.3" fill="#000">1.197</text>
<text x="125.30" y="1170.00" font-size="24.2" font-style="italic" fill="#000">R</text><text x="145.70" y="1156.70" font-size="18.3" fill="#000">2</text><text x="161.60" y="1170.00" font-size="24.2" fill="#000">=</text><text x="181.40" y="1170.00" font-size="24.2" fill="#000">0.50,</text><text x="242.80" y="1170.00" font-size="24.2" font-style="italic" fill="#000">P</text><text x="262.80" y="1170.00" font-size="24.2" fill="#000"><</text><text x="283.90" y="1170.00" font-size="24.2" fill="#000">0.001,</text><text x="358.70" y="1170.00" font-size="24.2" font-style="italic" fill="#000">n</text><text x="377.70" y="1170.00" font-size="24.2" fill="#000">=</text><text x="397.20" y="1170.00" font-size="24.2" fill="#000">215</text>
<g fill="#0000FF"><circle cx="126.6" cy="1512.8" r="6.8"/><circle cx="134.3" cy="1512.8" r="6.8"/><circle cx="142.0" cy="1512.8" r="6.8"/><circle cx="149.7" cy="1512.8" r="6.8"/><circle cx="157.3" cy="1512.8" r="6.8"/><circle cx="165.0" cy="1512.8" r="6.8"/><circle cx="172.7" cy="1512.8" r="6.8"/><circle cx="180.4" cy="1512.8" r="6.8"/><circle cx="188.1" cy="1512.8" r="6.8"/><circle cx="205.0" cy="1512.8" r="6.8"/><circle cx="212.0" cy="1512.8" r="6.8"/><circle cx="219.0" cy="1512.8" r="6.8"/><circle cx="226.0" cy="1512.8" r="6.8"/><circle cx="250.5" cy="1512.8" r="6.8"/><circle cx="261.9" cy="1512.8" r="6.8"/><circle cx="207.7" cy="1465.0" r="6.8"/><circle cx="308.2" cy="1449.0" r="6.8"/><circle cx="123.1" cy="1434.0" r="6.8"/><circle cx="157.3" cy="1434.0" r="6.8"/><circle cx="165.3" cy="1434.0" r="6.8"/><circle cx="173.3" cy="1434.0" r="6.8"/><circle cx="181.3" cy="1434.0" r="6.8"/><circle cx="189.3" cy="1434.0" r="6.8"/><circle cx="197.4" cy="1434.0" r="6.8"/><circle cx="205.4" cy="1434.0" r="6.8"/><circle cx="213.4" cy="1434.0" r="6.8"/><circle cx="221.4" cy="1434.0" r="6.8"/><circle cx="229.4" cy="1434.0" r="6.8"/><circle cx="237.4" cy="1434.0" r="6.8"/><circle cx="245.4" cy="1434.0" r="6.8"/><circle cx="253.4" cy="1434.0" r="6.8"/><circle cx="261.5" cy="1434.0" r="6.8"/><circle cx="269.5" cy="1434.0" r="6.8"/><circle cx="277.5" cy="1434.0" r="6.8"/><circle cx="285.5" cy="1434.0" r="6.8"/><circle cx="293.5" cy="1434.0" r="6.8"/><circle cx="301.5" cy="1434.0" r="6.8"/><circle cx="309.5" cy="1434.0" r="6.8"/><circle cx="317.5" cy="1434.0" r="6.8"/><circle cx="325.5" cy="1434.0" r="6.8"/><circle cx="333.6" cy="1434.0" r="6.8"/><circle cx="341.6" cy="1434.0" r="6.8"/><circle cx="349.6" cy="1434.0" r="6.8"/><circle cx="357.6" cy="1434.0" r="6.8"/><circle cx="365.6" cy="1434.0" r="6.8"/><circle cx="381.8" cy="1434.0" r="6.8"/><circle cx="389.3" cy="1434.0" r="6.8"/><circle cx="396.8" cy="1434.0" r="6.8"/><circle cx="404.2" cy="1434.0" r="6.8"/><circle cx="411.7" cy="1434.0" r="6.8"/><circle cx="326.4" cy="1275.7" r="6.8"/><circle cx="334.3" cy="1275.7" r="6.8"/><circle cx="342.2" cy="1275.7" r="6.8"/><circle cx="350.2" cy="1275.7" r="6.8"/><circle cx="358.1" cy="1275.7" r="6.8"/><circle cx="381.3" cy="1275.7" r="6.8"/><circle cx="391.3" cy="1275.7" r="6.8"/><circle cx="398.6" cy="1275.7" r="6.8"/><circle cx="406.1" cy="1275.7" r="6.8"/><circle cx="413.6" cy="1275.7" r="6.8"/><circle cx="421.2" cy="1275.7" r="6.8"/><circle cx="428.7" cy="1275.7" r="6.8"/><circle cx="436.2" cy="1275.7" r="6.8"/><circle cx="443.9" cy="1275.7" r="6.8"/><circle cx="501.3" cy="1275.7" r="6.8"/><circle cx="508.2" cy="1275.7" r="6.8"/><circle cx="515.2" cy="1275.7" r="6.8"/><circle cx="522.1" cy="1275.7" r="6.8"/><circle cx="545.2" cy="1275.7" r="6.8"/></g>
<path d="M123.1 1502.0L133.6 1497.1L144.2 1492.2L154.7 1487.2L165.3 1482.2L175.8 1477.1L186.3 1472.0L196.9 1466.8L207.4 1461.6L218.0 1456.3L228.5 1451.0L239.0 1445.7L249.6 1440.4L260.1 1434.9L270.7 1429.5L281.2 1424.0L291.7 1418.5L302.3 1413.0L312.8 1407.4L323.4 1401.8L333.9 1396.1L344.4 1390.5L355.0 1384.7L365.5 1379.0L376.1 1373.2L386.6 1367.4L397.1 1361.6L407.7 1355.7L418.2 1349.9L428.8 1343.9L439.3 1338.0L449.8 1332.0L460.4 1326.0L470.9 1320.0L481.5 1313.9L492.0 1307.9L502.5 1301.8L513.1 1295.6L523.6 1289.5L534.2 1283.3L544.7 1277.1" stroke="#000" stroke-width="3.0" fill="none" stroke-linejoin="round" stroke-linecap="round"/>
<rect x="101.30" y="1094.90" width="488.10" height="520.10" fill="none" stroke="#282828" stroke-width="1.7"/>
<path d="M102.60 1615.00V1620.30M213.40 1615.00V1620.30M324.20 1615.00V1620.30M435.00 1615.00V1620.30M545.80 1615.00V1620.30" stroke="#282828" stroke-width="1.7" fill="none"/>
<path d="M599.90 1552.32H1087.90M599.90 1473.35H1087.90M599.90 1394.38H1087.90M599.90 1315.42H1087.90M599.90 1236.45H1087.90M599.90 1157.48H1087.90M657.66 1094.90V1615.00M768.19 1094.90V1615.00M878.71 1094.90V1615.00M989.24 1094.90V1615.00" stroke="#ECECEC" stroke-width="1.4" fill="none"/>
<path d="M599.90 1591.80H1087.90M599.90 1512.83H1087.90M599.90 1433.87H1087.90M599.90 1354.90H1087.90M599.90 1275.93H1087.90M599.90 1196.97H1087.90M599.90 1118.00H1087.90M602.40 1094.90V1615.00M712.92 1094.90V1615.00M823.45 1094.90V1615.00M933.98 1094.90V1615.00M1044.50 1094.90V1615.00" stroke="#ECECEC" stroke-width="1.6" fill="none"/>
<text x="625.05" y="1133.40" font-size="24.2" fill="#000">SwW</text><text x="685.85" y="1133.40" font-size="24.2" fill="#000">=</text><text x="704.95" y="1133.40" font-size="24.2" fill="#000">0.079</text><text x="770.25" y="1133.40" font-size="24.2" fill="#000">SL</text><text x="799.55" y="1120.30" font-size="18.3" fill="#000">0.857</text>
<text x="625.10" y="1170.00" font-size="24.2" font-style="italic" fill="#000">R</text><text x="645.50" y="1156.70" font-size="18.3" fill="#000">2</text><text x="661.40" y="1170.00" font-size="24.2" fill="#000">=</text><text x="681.20" y="1170.00" font-size="24.2" fill="#000">0.49,</text><text x="742.60" y="1170.00" font-size="24.2" font-style="italic" fill="#000">P</text><text x="762.60" y="1170.00" font-size="24.2" fill="#000"><</text><text x="783.70" y="1170.00" font-size="24.2" fill="#000">0.001,</text><text x="858.50" y="1170.00" font-size="24.2" font-style="italic" fill="#000">n</text><text x="877.50" y="1170.00" font-size="24.2" fill="#000">=</text><text x="897.30" y="1170.00" font-size="24.2" fill="#000">38</text>
<path d="M1066.3 1265.9L1074.9 1280.3L1057.7 1280.3ZM955.3 1376.2L963.9 1390.6L946.7 1390.6ZM957.5 1379.7L966.1 1394.1L948.9 1394.1ZM766.2 1392.1L774.8 1406.5L757.6 1406.5ZM700.3 1423.3L708.9 1437.7L691.7 1437.7ZM719.0 1423.3L727.6 1437.7L710.4 1437.7ZM723.6 1423.3L732.2 1437.7L715.0 1437.7ZM729.0 1423.3L737.6 1437.7L720.4 1437.7ZM738.1 1423.3L746.7 1437.7L729.5 1437.7ZM742.6 1423.3L751.2 1437.7L734.0 1437.7ZM747.2 1423.3L755.8 1437.7L738.6 1437.7ZM751.7 1423.3L760.3 1437.7L743.1 1437.7ZM757.1 1423.3L765.7 1437.7L748.5 1437.7ZM768.9 1423.3L777.5 1437.7L760.3 1437.7ZM779.8 1423.3L788.4 1437.7L771.2 1437.7ZM785.3 1423.3L793.9 1437.7L776.7 1437.7ZM789.8 1423.3L798.4 1437.7L781.2 1437.7ZM795.2 1423.3L803.8 1437.7L786.6 1437.7ZM800.7 1423.3L809.3 1437.7L792.1 1437.7ZM810.7 1423.3L819.3 1437.7L802.1 1437.7ZM822.5 1423.3L831.1 1437.7L813.9 1437.7ZM836.1 1423.3L844.7 1437.7L827.5 1437.7ZM862.5 1423.3L871.1 1437.7L853.9 1437.7ZM870.8 1423.3L879.4 1437.7L862.2 1437.7ZM889.2 1423.3L897.8 1437.7L880.6 1437.7ZM897.9 1423.3L906.5 1437.7L889.3 1437.7ZM955.3 1423.3L963.9 1437.7L946.7 1437.7ZM669.8 1502.0L678.4 1516.4L661.2 1516.4ZM685.8 1502.0L694.4 1516.4L677.2 1516.4ZM689.9 1502.0L698.5 1516.4L681.3 1516.4ZM729.4 1502.0L738.0 1516.4L720.8 1516.4Z" fill="#FFA500"/>
<path d="M670.0 1475.6L679.9 1472.3L689.8 1469.1L699.6 1465.9L709.5 1462.7L719.4 1459.5L729.3 1456.3L739.2 1453.2L749.1 1450.0L758.9 1446.9L768.8 1443.8L778.7 1440.7L788.6 1437.6L798.5 1434.6L808.4 1431.5L818.2 1428.5L828.1 1425.5L838.0 1422.4L847.9 1419.4L857.8 1416.4L867.6 1413.5L877.5 1410.5L887.4 1407.5L897.3 1404.6L907.2 1401.6L917.1 1398.7L926.9 1395.8L936.8 1392.9L946.7 1390.0L956.6 1387.1L966.5 1384.2L976.4 1381.3L986.2 1378.4L996.1 1375.6L1006.0 1372.7L1015.9 1369.9L1025.8 1367.1L1035.7 1364.2L1045.5 1361.4L1055.4 1358.6L1065.3 1355.8" stroke="#000" stroke-width="3.0" fill="none" stroke-linejoin="round" stroke-linecap="round"/>
<rect x="599.90" y="1094.90" width="488.00" height="520.10" fill="none" stroke="#282828" stroke-width="1.7"/>
<path d="M602.40 1615.00V1620.30M712.92 1615.00V1620.30M823.45 1615.00V1620.30M933.98 1615.00V1620.30M1044.50 1615.00V1620.30" stroke="#282828" stroke-width="1.7" fill="none"/>
<path d="M95.00 1591.80H101.30M95.00 1512.83H101.30M95.00 1433.87H101.30M95.00 1354.90H101.30M95.00 1275.93H101.30M95.00 1196.97H101.30M95.00 1118.00H101.30" stroke="#282828" stroke-width="1.7" fill="none"/>
<text x="90.5" y="1604.1" font-size="29" text-anchor="end" fill="#000">0.0</text>
<text x="90.5" y="1525.1" font-size="29" text-anchor="end" fill="#000">0.5</text>
<text x="90.5" y="1446.2" font-size="29" text-anchor="end" fill="#000">1.0</text>
<text x="90.5" y="1367.2" font-size="29" text-anchor="end" fill="#000">1.5</text>
<text x="90.5" y="1288.2" font-size="29" text-anchor="end" fill="#000">2.0</text>
<text x="90.5" y="1209.3" font-size="29" text-anchor="end" fill="#000">2.5</text>
<text x="90.5" y="1130.3" font-size="29" text-anchor="end" fill="#000">3.0</text>
<text transform="translate(42.4 1354.5) rotate(-90)" font-size="28" text-anchor="middle" fill="#000">Swimbladder width (mm)</text>
<path d="M100.00 2092.56H588.10M100.00 2013.67H588.10M100.00 1934.79H588.10M100.00 1855.91H588.10M100.00 1777.03H588.10M100.00 1698.14H588.10M156.67 1635.70V2155.60M267.42 1635.70V2155.60M378.17 1635.70V2155.60M488.92 1635.70V2155.60" stroke="#ECECEC" stroke-width="1.4" fill="none"/>
<path d="M100.00 2132.00H588.10M100.00 2053.12H588.10M100.00 1974.23H588.10M100.00 1895.35H588.10M100.00 1816.47H588.10M100.00 1737.58H588.10M100.00 1658.70H588.10M101.30 1635.70V2155.60M212.05 1635.70V2155.60M322.80 1635.70V2155.60M433.55 1635.70V2155.60M544.30 1635.70V2155.60" stroke="#ECECEC" stroke-width="1.6" fill="none"/>
<g fill="#0000FF"><circle cx="257.1" cy="1825.4" r="6.8"/><circle cx="160.9" cy="1832.1" r="6.8"/><circle cx="170.9" cy="1843.9" r="6.8"/><circle cx="203.5" cy="1850.8" r="6.8"/><circle cx="159.1" cy="1855.3" r="6.8"/><circle cx="139.1" cy="1863.8" r="6.8"/><circle cx="146.4" cy="1868.9" r="6.8"/><circle cx="121.3" cy="1886.2" r="6.8"/><circle cx="168.2" cy="1879.8" r="6.8"/><circle cx="184.5" cy="1877.5" r="6.8"/><circle cx="197.2" cy="1876.2" r="6.8"/><circle cx="225.3" cy="1834.4" r="6.8"/><circle cx="231.7" cy="1837.7" r="6.8"/><circle cx="253.4" cy="1836.3" r="6.8"/><circle cx="248.0" cy="1841.7" r="6.8"/><circle cx="265.2" cy="1847.2" r="6.8"/><circle cx="277.9" cy="1837.7" r="6.8"/><circle cx="285.2" cy="1839.9" r="6.8"/><circle cx="241.7" cy="1856.6" r="6.8"/><circle cx="228.9" cy="1860.8" r="6.8"/><circle cx="217.2" cy="1869.8" r="6.8"/><circle cx="229.5" cy="1875.8" r="6.8"/><circle cx="288.8" cy="1856.2" r="6.8"/><circle cx="303.6" cy="1858.0" r="6.8"/><circle cx="255.3" cy="1863.5" r="6.8"/><circle cx="264.3" cy="1865.3" r="6.8"/><circle cx="275.2" cy="1863.5" r="6.8"/><circle cx="282.5" cy="1869.8" r="6.8"/><circle cx="271.6" cy="1876.2" r="6.8"/><circle cx="262.5" cy="1878.0" r="6.8"/><circle cx="294.3" cy="1878.9" r="6.8"/><circle cx="248.0" cy="1883.4" r="6.8"/><circle cx="269.8" cy="1885.3" r="6.8"/><circle cx="258.9" cy="1888.9" r="6.8"/><circle cx="233.5" cy="1890.7" r="6.8"/><circle cx="218.1" cy="1897.1" r="6.8"/><circle cx="228.0" cy="1898.0" r="6.8"/><circle cx="240.7" cy="1896.2" r="6.8"/><circle cx="257.1" cy="1898.0" r="6.8"/><circle cx="185.4" cy="1903.4" r="6.8"/><circle cx="155.4" cy="1917.9" r="6.8"/><circle cx="163.6" cy="1919.7" r="6.8"/><circle cx="128.6" cy="1923.7" r="6.8"/><circle cx="177.2" cy="1920.7" r="6.8"/><circle cx="180.9" cy="1917.0" r="6.8"/><circle cx="197.2" cy="1916.1" r="6.8"/><circle cx="154.5" cy="1931.5" r="6.8"/><circle cx="190.8" cy="1931.5" r="6.8"/><circle cx="219.0" cy="1916.1" r="6.8"/><circle cx="231.7" cy="1907.0" r="6.8"/><circle cx="235.3" cy="1917.9" r="6.8"/><circle cx="228.0" cy="1927.0" r="6.8"/><circle cx="255.3" cy="1910.7" r="6.8"/><circle cx="260.7" cy="1919.7" r="6.8"/><circle cx="246.2" cy="1923.4" r="6.8"/><circle cx="238.9" cy="1934.3" r="6.8"/><circle cx="255.3" cy="1936.1" r="6.8"/><circle cx="264.3" cy="1930.6" r="6.8"/><circle cx="277.0" cy="1919.7" r="6.8"/><circle cx="282.5" cy="1920.7" r="6.8"/><circle cx="278.9" cy="1936.1" r="6.8"/><circle cx="284.3" cy="1945.2" r="6.8"/><circle cx="303.6" cy="1928.4" r="6.8"/><circle cx="209.9" cy="1943.3" r="6.8"/><circle cx="219.0" cy="1943.3" r="6.8"/><circle cx="199.0" cy="1947.0" r="6.8"/><circle cx="213.5" cy="1957.9" r="6.8"/><circle cx="193.6" cy="1957.0" r="6.8"/><circle cx="183.6" cy="1961.5" r="6.8"/><circle cx="158.2" cy="1958.8" r="6.8"/><circle cx="233.5" cy="1952.4" r="6.8"/><circle cx="246.2" cy="1947.0" r="6.8"/><circle cx="266.2" cy="1947.0" r="6.8"/><circle cx="258.9" cy="1954.2" r="6.8"/><circle cx="248.0" cy="1961.5" r="6.8"/><circle cx="257.1" cy="1968.7" r="6.8"/><circle cx="293.4" cy="1955.7" r="6.8"/><circle cx="137.3" cy="1976.0" r="6.8"/><circle cx="152.7" cy="1976.0" r="6.8"/><circle cx="166.3" cy="1973.3" r="6.8"/><circle cx="173.6" cy="1972.4" r="6.8"/><circle cx="186.3" cy="1975.1" r="6.8"/><circle cx="249.8" cy="1975.1" r="6.8"/><circle cx="269.8" cy="1975.1" r="6.8"/><circle cx="281.6" cy="1970.6" r="6.8"/><circle cx="148.2" cy="1986.3" r="6.8"/><circle cx="156.4" cy="1992.7" r="6.8"/><circle cx="172.7" cy="1995.4" r="6.8"/><circle cx="203.5" cy="1992.3" r="6.8"/><circle cx="187.2" cy="2006.8" r="6.8"/><circle cx="220.8" cy="2001.4" r="6.8"/><circle cx="230.8" cy="2001.4" r="6.8"/><circle cx="244.4" cy="1995.4" r="6.8"/><circle cx="248.9" cy="1980.9" r="6.8"/><circle cx="255.3" cy="1993.6" r="6.8"/><circle cx="271.6" cy="1982.7" r="6.8"/><circle cx="286.1" cy="1989.9" r="6.8"/><circle cx="287.9" cy="1995.4" r="6.8"/><circle cx="294.0" cy="1990.0" r="6.8"/><circle cx="244.4" cy="2014.1" r="6.8"/><circle cx="258.9" cy="2011.7" r="6.8"/><circle cx="258.9" cy="2021.7" r="6.8"/><circle cx="252.5" cy="2029.9" r="6.8"/><circle cx="287.9" cy="2017.2" r="6.8"/><circle cx="150.0" cy="2027.2" r="6.8"/><circle cx="155.4" cy="2031.7" r="6.8"/><circle cx="177.2" cy="2025.3" r="6.8"/><circle cx="173.6" cy="2038.9" r="6.8"/><circle cx="195.4" cy="2025.3" r="6.8"/><circle cx="192.7" cy="2037.1" r="6.8"/><circle cx="225.3" cy="2025.3" r="6.8"/><circle cx="230.8" cy="2032.6" r="6.8"/><circle cx="221.7" cy="2043.1" r="6.8"/><circle cx="239.8" cy="2042.0" r="6.8"/><circle cx="283.4" cy="2048.9" r="6.8"/><circle cx="262.5" cy="2054.7" r="6.8"/><circle cx="124.6" cy="2060.7" r="6.8"/><circle cx="225.3" cy="2060.7" r="6.8"/><circle cx="244.4" cy="2103.0" r="6.8"/><circle cx="325.4" cy="1766.9" r="6.8"/><circle cx="411.6" cy="1795.9" r="6.8"/><circle cx="338.6" cy="1813.0" r="6.8"/><circle cx="389.5" cy="1818.4" r="6.8"/><circle cx="392.5" cy="1828.1" r="6.8"/><circle cx="313.6" cy="1829.0" r="6.8"/><circle cx="335.4" cy="1830.8" r="6.8"/><circle cx="344.4" cy="1826.2" r="6.8"/><circle cx="322.7" cy="1849.5" r="6.8"/><circle cx="338.1" cy="1853.5" r="6.8"/><circle cx="342.6" cy="1850.7" r="6.8"/><circle cx="356.2" cy="1852.2" r="6.8"/><circle cx="347.2" cy="1863.1" r="6.8"/><circle cx="379.3" cy="1846.8" r="6.8"/><circle cx="407.1" cy="1848.4" r="6.8"/><circle cx="334.5" cy="1888.9" r="6.8"/><circle cx="332.6" cy="1897.0" r="6.8"/><circle cx="344.4" cy="1893.4" r="6.8"/><circle cx="380.7" cy="1886.1" r="6.8"/><circle cx="389.8" cy="1888.9" r="6.8"/><circle cx="382.6" cy="1891.6" r="6.8"/><circle cx="442.1" cy="1884.7" r="6.8"/><circle cx="357.2" cy="1905.2" r="6.8"/><circle cx="331.4" cy="1917.9" r="6.8"/><circle cx="399.8" cy="1913.4" r="6.8"/><circle cx="404.3" cy="1922.4" r="6.8"/><circle cx="366.2" cy="1925.2" r="6.8"/><circle cx="379.3" cy="1926.6" r="6.8"/><circle cx="363.5" cy="1934.6" r="6.8"/><circle cx="399.8" cy="1934.2" r="6.8"/><circle cx="424.3" cy="1929.7" r="6.8"/><circle cx="411.6" cy="1940.0" r="6.8"/><circle cx="325.4" cy="1941.5" r="6.8"/><circle cx="351.7" cy="1945.5" r="6.8"/><circle cx="379.8" cy="1952.4" r="6.8"/><circle cx="392.5" cy="1957.8" r="6.8"/><circle cx="418.9" cy="1953.8" r="6.8"/><circle cx="382.6" cy="1960.0" r="6.8"/><circle cx="337.2" cy="1972.3" r="6.8"/><circle cx="417.4" cy="1970.5" r="6.8"/><circle cx="306.3" cy="1984.5" r="6.8"/><circle cx="306.3" cy="1992.6" r="6.8"/><circle cx="318.1" cy="1990.8" r="6.8"/><circle cx="357.5" cy="1996.6" r="6.8"/><circle cx="395.3" cy="1997.7" r="6.8"/><circle cx="391.6" cy="1999.9" r="6.8"/><circle cx="386.6" cy="2012.6" r="6.8"/><circle cx="428.8" cy="2014.0" r="6.8"/><circle cx="398.3" cy="2022.6" r="6.8"/><circle cx="398.3" cy="2028.9" r="6.8"/><circle cx="402.9" cy="2042.0" r="6.8"/><circle cx="389.8" cy="2084.3" r="6.8"/><circle cx="500.7" cy="1871.8" r="6.8"/><circle cx="544.3" cy="1878.5" r="6.8"/><circle cx="510.7" cy="1913.9" r="6.8"/><circle cx="522.5" cy="1974.7" r="6.8"/><circle cx="240.0" cy="1870.0" r="6.8"/><circle cx="250.0" cy="1880.0" r="6.8"/><circle cx="262.0" cy="1872.0" r="6.8"/><circle cx="270.0" cy="1858.0" r="6.8"/><circle cx="276.0" cy="1850.0" r="6.8"/><circle cx="244.0" cy="1900.0" r="6.8"/><circle cx="252.0" cy="1906.0" r="6.8"/><circle cx="240.0" cy="1912.0" r="6.8"/><circle cx="262.0" cy="1905.0" r="6.8"/><circle cx="248.0" cy="1932.0" r="6.8"/><circle cx="268.0" cy="1940.0" r="6.8"/><circle cx="262.0" cy="1960.0" r="6.8"/><circle cx="252.0" cy="1950.0" r="6.8"/><circle cx="250.0" cy="1988.0" r="6.8"/><circle cx="258.0" cy="1983.0" r="6.8"/><circle cx="236.0" cy="1880.0" r="6.8"/><circle cx="270.0" cy="1900.0" r="6.8"/><circle cx="230.0" cy="1940.0" r="6.8"/><circle cx="258.0" cy="1848.0" r="6.8"/><circle cx="266.0" cy="1856.0" r="6.8"/><circle cx="272.0" cy="1845.0" r="6.8"/></g>
<rect x="100.00" y="1635.70" width="488.10" height="519.90" fill="none" stroke="#282828" stroke-width="1.7"/>
<path d="M101.30 2155.60V2160.90M212.05 2155.60V2160.90M322.80 2155.60V2160.90M433.55 2155.60V2160.90M544.30 2155.60V2160.90" stroke="#282828" stroke-width="1.7" fill="none"/>
<path d="M599.90 2092.56H1087.90M599.90 2013.67H1087.90M599.90 1934.79H1087.90M599.90 1855.91H1087.90M599.90 1777.03H1087.90M599.90 1698.14H1087.90M656.59 1635.70V2155.60M767.36 1635.70V2155.60M878.14 1635.70V2155.60M988.91 1635.70V2155.60" stroke="#ECECEC" stroke-width="1.4" fill="none"/>
<path d="M599.90 2132.00H1087.90M599.90 2053.12H1087.90M599.90 1974.23H1087.90M599.90 1895.35H1087.90M599.90 1816.47H1087.90M599.90 1737.58H1087.90M599.90 1658.70H1087.90M601.20 1635.70V2155.60M711.98 1635.70V2155.60M822.75 1635.70V2155.60M933.52 1635.70V2155.60M1044.30 1635.70V2155.60" stroke="#ECECEC" stroke-width="1.6" fill="none"/>
<path d="M810.7 1822.7L819.3 1837.1L802.1 1837.1ZM737.8 1837.3L746.4 1851.7L729.2 1851.7ZM749.8 1840.1L758.4 1854.5L741.2 1854.5ZM750.4 1855.0L759.0 1869.4L741.8 1869.4ZM822.7 1844.6L831.3 1859.0L814.1 1859.0ZM758.4 1885.2L767.0 1899.6L749.8 1899.6ZM834.1 1892.2L842.7 1906.6L825.5 1906.6ZM834.7 1897.9L843.3 1912.3L826.1 1912.3ZM788.2 1903.1L796.8 1917.5L779.6 1917.5ZM689.9 1917.5L698.5 1931.9L681.3 1931.9ZM728.9 1921.9L737.5 1936.3L720.3 1936.3ZM746.8 1914.5L755.4 1928.9L738.2 1928.9ZM755.2 1918.7L763.8 1933.1L746.6 1933.1ZM766.8 1932.5L775.4 1946.9L758.2 1946.9ZM669.0 1935.1L677.6 1949.5L660.4 1949.5ZM717.9 1953.4L726.5 1967.8L709.3 1967.8ZM685.5 1978.4L694.1 1992.8L676.9 1992.8ZM699.5 1985.6L708.1 2000.0L690.9 2000.0ZM768.2 1983.0L776.8 1997.4L759.6 1997.4ZM794.7 1985.8L803.3 2000.2L786.1 2000.2ZM837.7 2002.0L846.3 2016.4L829.1 2016.4ZM780.8 2010.9L789.4 2025.3L772.2 2025.3ZM800.7 2006.4L809.3 2020.8L792.1 2020.8ZM722.9 2016.3L731.5 2030.7L714.3 2030.7ZM742.8 2026.3L751.4 2040.7L734.2 2040.7ZM728.5 2039.7L737.1 2054.1L719.9 2054.1ZM784.2 2033.9L792.8 2048.3L775.6 2048.3ZM862.0 2047.5L870.6 2061.9L853.4 2061.9ZM722.9 2077.6L731.5 2092.0L714.3 2092.0ZM889.2 1891.9L897.8 1906.3L880.6 1906.3ZM955.2 1922.4L963.8 1936.8L946.6 1936.8ZM955.2 1931.5L963.8 1945.9L946.6 1945.9ZM899.0 1987.0L907.6 2001.4L890.4 2001.4ZM1066.0 1985.9L1074.6 2000.3L1057.4 2000.3ZM955.2 2015.1L963.8 2029.5L946.6 2029.5ZM887.5 2034.3L896.1 2048.7L878.9 2048.7ZM870.7 2057.4L879.3 2071.8L862.1 2071.8ZM895.7 1864.7L904.3 1879.1L887.1 1879.1Z" fill="#FFA500"/>
<rect x="599.90" y="1635.70" width="488.00" height="519.90" fill="none" stroke="#282828" stroke-width="1.7"/>
<path d="M601.20 2155.60V2160.90M711.98 2155.60V2160.90M822.75 2155.60V2160.90M933.52 2155.60V2160.90M1044.30 2155.60V2160.90" stroke="#282828" stroke-width="1.7" fill="none"/>
<path d="M93.70 2132.00H100.00M93.70 2053.12H100.00M93.70 1974.23H100.00M93.70 1895.35H100.00M93.70 1816.47H100.00M93.70 1737.58H100.00M93.70 1658.70H100.00" stroke="#282828" stroke-width="1.7" fill="none"/>
<text x="89.2" y="2144.3" font-size="29" text-anchor="end" fill="#000">0</text>
<text x="89.2" y="2065.4" font-size="29" text-anchor="end" fill="#000">5</text>
<text x="89.2" y="1986.5" font-size="29" text-anchor="end" fill="#000">10</text>
<text x="89.2" y="1907.6" font-size="29" text-anchor="end" fill="#000">15</text>
<text x="89.2" y="1828.8" font-size="29" text-anchor="end" fill="#000">20</text>
<text x="89.2" y="1749.9" font-size="29" text-anchor="end" fill="#000">25</text>
<text x="89.2" y="1671.0" font-size="29" text-anchor="end" fill="#000">30</text>
<text transform="translate(42.4 1877.4) rotate(-90)" font-size="28" text-anchor="middle" fill="#000">Swimbladder angle (θ)</text>
<text x="101.3" y="2188.3" font-size="29" text-anchor="middle" fill="#000">10</text>
<text x="212.0" y="2188.3" font-size="29" text-anchor="middle" fill="#000">15</text>
<text x="322.8" y="2188.3" font-size="29" text-anchor="middle" fill="#000">20</text>
<text x="433.5" y="2188.3" font-size="29" text-anchor="middle" fill="#000">25</text>
<text x="544.3" y="2188.3" font-size="29" text-anchor="middle" fill="#000">30</text>
<text x="601.2" y="2188.3" font-size="29" text-anchor="middle" fill="#000">10</text>
<text x="712.0" y="2188.3" font-size="29" text-anchor="middle" fill="#000">15</text>
<text x="822.8" y="2188.3" font-size="29" text-anchor="middle" fill="#000">20</text>
<text x="933.5" y="2188.3" font-size="29" text-anchor="middle" fill="#000">25</text>
<text x="1044.3" y="2188.3" font-size="29" text-anchor="middle" fill="#000">30</text>
<text transform="translate(592.9 2220.5) scale(0.98 1)" font-size="28" text-anchor="middle" fill="#000">Standard length (mm)</text>
<rect x="9.5" y="2021" width="43" height="35" fill="#F7F6F6"/>
</svg></body></html>
